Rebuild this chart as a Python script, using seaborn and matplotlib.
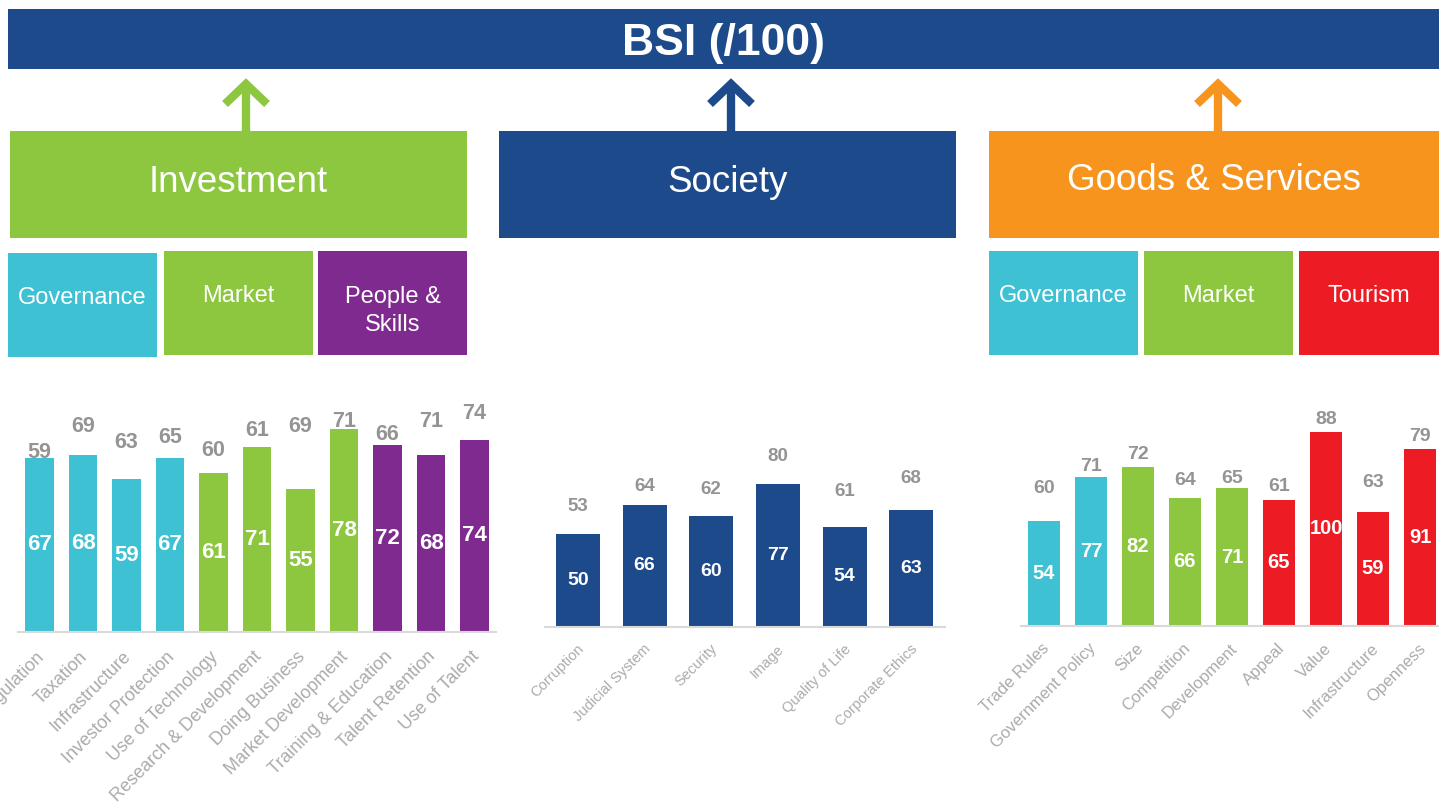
import pandas as pd
import matplotlib.pyplot as plt
import matplotlib.transforms as mtransforms
from matplotlib.patches import Rectangle
import seaborn as sns

sns.set_theme(style="white")
plt.rcParams['font.family'] = ['Liberation Sans', 'DejaVu Sans']

# Colori
NAVY = "#1D4A8B"
GREEN = "#8DC63F"
CYAN = "#3EC1D3"
PURPLE = "#7F2A8E"
ORANGE = "#F7941D"
RED = "#ED1C24"
GREY_NUM = "#949494"
GREY_TICK = "#ABABAB"

# Dati - Investment
inv_labels = ["Regulation", "Taxation", "Infrastructure", "Investor Protection",
              "Use of Technology", "Research & Development", "Doing Business",
              "Market Development", "Training & Education", "Talent Retention",
              "Use of Talent"]
inv_scores = [67, 68, 59, 67, 61, 71, 55, 78, 72, 68, 74]
inv_prev = [59, 69, 63, 65, 60, 61, 69, 71, 66, 71, 74]
inv_colors = [CYAN] * 4 + [GREEN] * 4 + [PURPLE] * 3

# Dati - Society
soc_labels = ["Corruption", "Judicial System", "Security", "Image",
              "Quality of Life", "Corporate Ethics"]
soc_scores = [50, 66, 60, 77, 54, 63]
soc_prev = [53, 64, 62, 80, 61, 68]
soc_colors = [NAVY] * 6

# Dati - Goods & Services
gs_labels = ["Trade Rules", "Government Policy", "Size", "Competition",
             "Development", "Appeal", "Value", "Infrastructure", "Openness"]
gs_scores = [54, 77, 82, 66, 71, 65, 100, 59, 91]
gs_prev = [60, 71, 72, 64, 65, 61, 88, 63, 79]
gs_colors = [CYAN] * 2 + [GREEN] * 3 + [RED] * 4

W, H = 1439, 807
fig = plt.figure(figsize=(W / 100, H / 100), dpi=100)

# Asse di sfondo in pixel per i box
hax = fig.add_axes([0, 0, 1, 1])
hax.set_xlim(0, W)
hax.set_ylim(H, 0)
hax.axis("off")


def box(x0, y0, x1, y1, color, text, size, bold=False, ty=None):
    hax.add_patch(Rectangle((x0, y0), x1 - x0, y1 - y0, color=color, lw=0))
    hax.text((x0 + x1) / 2, (y0 + y1) / 2 if ty is None else ty, text,
             ha="center", va="center", color="white", fontsize=size,
             fontweight="bold" if bold else "normal", linespacing=1.4)


def arrow(x, color):
    hax.plot([x, x], [131, 86], color=color, lw=6, solid_capstyle="butt")
    hax.plot([x - 21, x, x + 21], [104, 84, 104], color=color, lw=6,
             solid_joinstyle="miter", solid_capstyle="butt")


box(8, 9, 1439, 69, NAVY, "BSI (/100)", 32, bold=True, ty=43)
arrow(246, GREEN)
arrow(731, NAVY)
arrow(1218, ORANGE)
box(10, 131, 467, 238, GREEN, "Investment", 26.5, ty=182)
box(499, 131, 956, 238, NAVY, "Society", 26.5, ty=182)
box(989, 131, 1439, 238, ORANGE, "Goods & Services", 26.5, ty=181)

box(8, 253, 157, 357, CYAN, "Governance", 17, ty=298)
box(164, 251, 313, 355, GREEN, "Market", 17, ty=296)
box(318, 251, 467, 355, PURPLE, "People &\nSkills", 17, ty=311)
box(989, 251, 1138, 355, CYAN, "Governance", 17, ty=296)
box(1144, 251, 1293, 355, GREEN, "Market", 17, ty=296)
box(1299, 251, 1439, 355, RED, "Tourism", 17, ty=296)


def chart(x0, x1, base, ymax, scale, labels, scores, prev, colors,
          off, num_in, num_out, tick_fs, pad, dx):
    top = base - ymax * scale
    ax = fig.add_axes([x0 / W, 1 - base / H, (x1 - x0) / W, (base - top) / H])
    df = pd.DataFrame({"label": labels, "score": scores})
    sns.barplot(data=df, x="label", y="score", hue="label", palette=colors,
                saturation=1, width=0.66, linewidth=0, legend=False, ax=ax)
    ax.set_ylim(0, ymax)
    ax.set_xlim(-0.5, len(labels) - 0.5)
    ax.patch.set_alpha(0)
    for s in ["top", "left", "right"]:
        ax.spines[s].set_visible(False)
    ax.spines["bottom"].set_color("#D9D9D9")
    ax.spines["bottom"].set_linewidth(1.5)
    ax.set_yticks([])
    ax.set_xlabel("")
    ax.set_ylabel("")
    ax.tick_params(axis="x", length=0, pad=pad)
    ax.set_xticks(range(len(labels)))
    ax.set_xticklabels(labels, rotation=45, ha="right", va="center",
                       rotation_mode="anchor", color=GREY_TICK,
                       fontsize=tick_fs)
    shift = mtransforms.ScaledTranslation(dx / 100, 0, fig.dpi_scale_trans)
    for t in ax.get_xticklabels():
        t.set_transform(t.get_transform() + shift)
    for i, (v, p) in enumerate(zip(scores, prev)):
        ax.text(i, v / 2, str(v), ha="center", va="center", color="white",
                fontsize=num_in, fontweight="bold")
        # etichetta grigia sopra la barra, spostata se coperta
        ypos = p + off if p + off >= v + 2 else v + 6.5
        ax.text(i, ypos, str(p), ha="center", va="center", color=GREY_NUM,
                fontsize=num_out, fontweight="bold", clip_on=False)
    return ax


chart(17.75, 496.25, 632, 90, 2.6, inv_labels, inv_scores, inv_prev,
      inv_colors, 10, 16, 15.5, 13, 16, 2)
chart(544.5, 944.6, 626.7, 100, 1.85, soc_labels, soc_scores, soc_prev,
      soc_colors, 12, 14, 13.5, 10.5, 14.5, 4)
chart(1020.5, 1443.5, 626, 110, 1.94, gs_labels, gs_scores, gs_prev,
      gs_colors, 11, 14.5, 14, 12, 14.5, 3)

fig.savefig("out.png", dpi=100)
